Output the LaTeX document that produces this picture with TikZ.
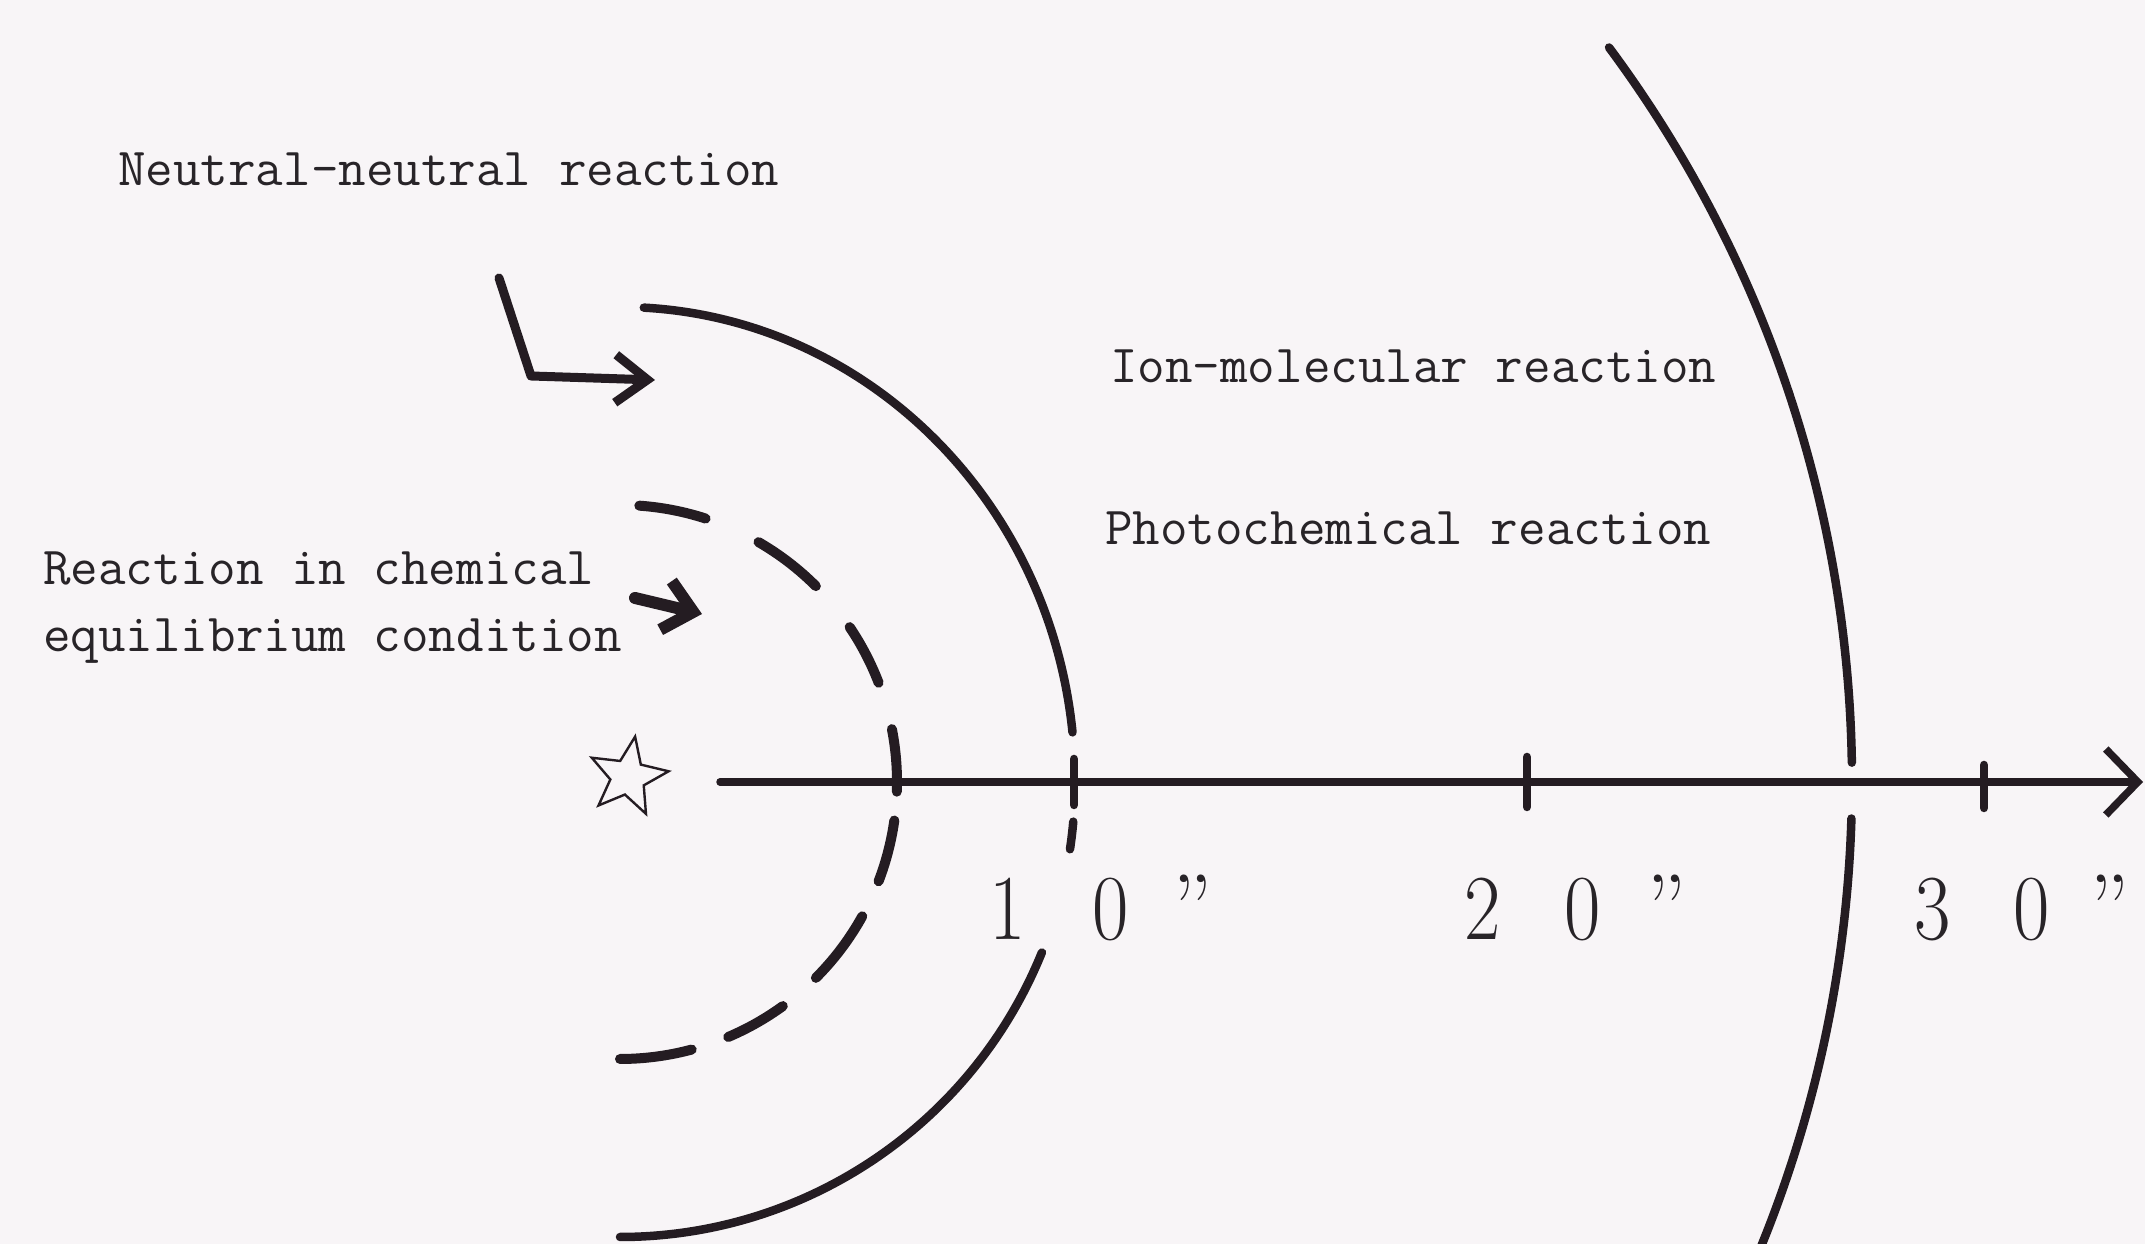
\documentclass[tikz,border=0pt]{standalone}
\usepackage{fontspec}
\usepackage{graphicx}
\usetikzlibrary{arrows.meta,shapes.geometric}
\definecolor{bgc}{RGB}{248,245,247}
\definecolor{inkc}{RGB}{36,28,34}
\definecolor{txtc}{RGB}{40,36,40}
\newcommand{\narrowd}[1]{\scalebox{0.85}[1]{#1}}
\begin{document}
\begin{tikzpicture}[x=1pt,y=1pt,
  curve/.style={draw=inkc,line width=8.5pt,line cap=round},
  dashcurve/.style={draw=inkc,line width=10pt,line cap=round},
  lbl/.style={font=\ttfamily\fontsize{53.5}{58}\selectfont,text=txtc,inner sep=0pt,anchor=base west},
  numlbl/.style={font=\fontsize{93}{96}\selectfont,text=txtc,inner sep=0pt,anchor=base},
  pointer/.style={draw=inkc,line width=9pt,line cap=round,line join=round}]
\useasboundingbox (0,0) rectangle (2145,1244);
\fill[bgc] (0,0) rectangle (2145,1244);
\clip (0,0) rectangle (2145,1244);

\coordinate (O) at (620,462);

% axis
\coordinate (axS) at (720,462);
\coordinate (axE) at (2143,462);
\draw[curve,line width=7.5pt,-{Straight Barb[length=32pt,width=66pt]}] (axS) -- (axE);

% ticks
\draw[curve] (1074,439) -- (1074,485);
\draw[curve] (1527,437) -- (1527,487);
\draw[curve] (1984,436) -- (1984,479);

% dashed arc (equilibrium region)
\foreach \s/\e in {86/72,60/45,34/21,11/-2,-8/-21,-29/-45,-54/-67,-75/-90}
  \draw[dashcurve] (O) ++(\s:277) arc[start angle=\s,end angle=\e,radius=277];

% inner solid arc (10")
\draw[curve] (O) ++(87:455 and 475) arc[start angle=87,end angle=6,x radius=455,y radius=475];
\draw[curve] (O) ++(-5:455) arc[start angle=-5,end angle=-8.5,radius=455];
\draw[curve] (O) ++(-22:455) arc[start angle=-22,end angle=-90,radius=455];

% outer solid arc
\draw[curve] (O) ++(36.6:1232) arc[start angle=36.6,end angle=0.9,radius=1232];
\draw[curve] (O) ++(-1.7:1232) arc[start angle=-1.7,end angle=-25,radius=1232];

% star
\node[star,star points=5,star point ratio=2.3,minimum size=82pt,inner sep=0pt,
      draw=inkc,line width=2.4pt,rotate=-10] (star) at (628,467) {};

% pointer arrows
\coordinate (nnS) at (499,966);
\coordinate (nnC) at (531,868);
\coordinate (nnE) at (655,864);
\draw[pointer,-{Straight Barb[length=32pt,width=48pt]}] (nnS) -- (nnC) -- (nnE);
\coordinate (eqS) at (635,646);
\coordinate (eqE) at (702,630);
\draw[pointer,line width=12pt,-{Straight Barb[length=28pt,width=50pt]}] (eqS) -- (eqE);

% labels
\node[lbl] (nn) at (118,1058) {Neutral-neutral reaction};
\node[lbl] (im) at (1110,861) {Ion-molecular reaction};
\node[lbl] (ph) at (1105,699) {Photochemical reaction};
\node[lbl] (eqa) at (43,659) {Reaction in chemical};
\node[lbl] (eqb) at (43,592) {equilibrium condition};

% scale numbers
\node[numlbl] (t1a) at (1008,304) {\narrowd{1}};
\node[numlbl] (t1b) at (1111,304) {\narrowd{0}};
\node[numlbl] (t1c) at (1193,304) {”};
\node[numlbl] (t2a) at (1483,304) {\narrowd{2}};
\node[numlbl] (t2b) at (1583,304) {\narrowd{0}};
\node[numlbl] (t2c) at (1667,304) {”};
\node[numlbl] (t3a) at (1933,304) {\narrowd{3}};
\node[numlbl] (t3b) at (2032,304) {\narrowd{0}};
\node[numlbl] (t3c) at (2110,304) {”};
\end{tikzpicture}
\end{document}
